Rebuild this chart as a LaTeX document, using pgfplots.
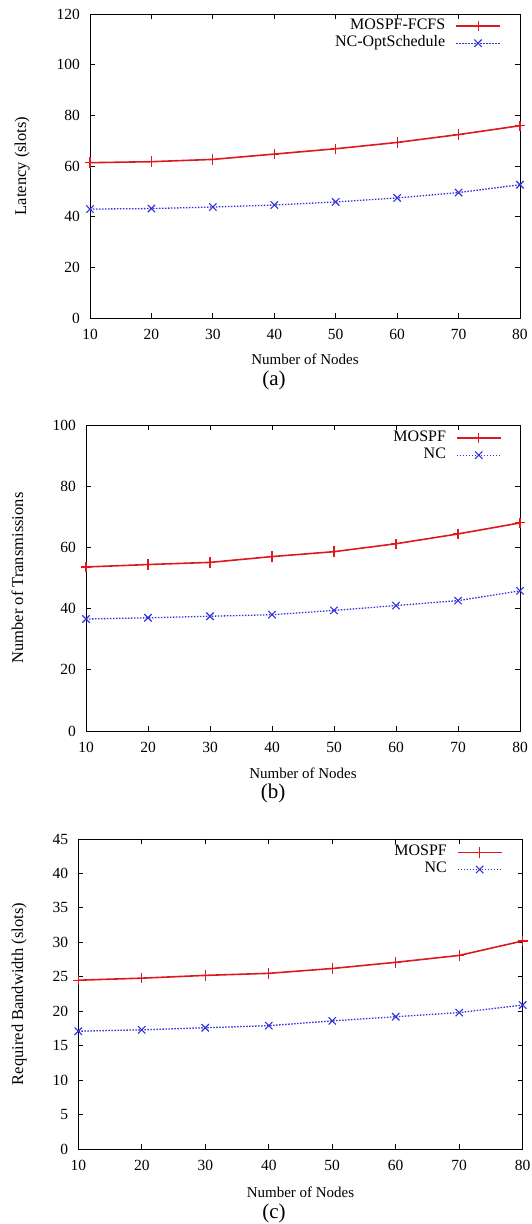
\documentclass[border=0pt]{standalone}
\usepackage{fontspec}
\setmainfont{Liberation Serif}
\usepackage{pgfplots}
\pgfplotsset{compat=1.18}
\newcommand\fs[1]{\fontsize{#1}{#1}\selectfont}
\definecolor{gred}{RGB}{220,25,30}
\definecolor{gblue}{RGB}{50,50,220}
\pgfplotsset{
  gp/.style={
    scale only axis,
    xmin=10, xmax=80,
    xtick={10,20,...,80},
    tick align=inside,
    major tick length=5pt,
    minor tick num=0,
    axis line style={line width=0.9pt},
    tick style={black, line width=0.8pt},
    /pgf/number format/assume math mode=true,
    ticklabel style={font=\fs{15.5}},
    yticklabel style={inner sep=0pt, xshift=-10pt},
    xticklabel style={inner sep=0pt, yshift=-11pt},
    xlabel={Number of Nodes},
    xlabel style={font=\fs{15}, anchor=center},
    ylabel style={font=\fs{16.5}, anchor=center},
    clip=false,
    legend plot pos=right,
    legend cell align=right,
    legend image code/.code={
      \draw[mark repeat=2,mark phase=2,##1] plot coordinates {(0pt,0pt) (22pt,0pt) (44pt,0pt)};
    },
    legend style={draw=none, fill=none, font=\fs{16}, row sep=0pt, column sep=9pt,
      inner sep=0pt, nodes={inner sep=1pt, text height=11pt, text depth=4pt}},
  },
  redl/.style={gred, line width=1.6pt, mark=+, mark size=5.2pt, mark options={solid, line width=1.1pt}},
  bluel/.style={gblue, line width=1.3pt, dash pattern=on 1.5pt off 1.5pt, mark=x, mark size=5.2pt, mark options={solid, line width=1.1pt}},
}
\begin{document}
\begin{tikzpicture}
\useasboundingbox (0,0) rectangle (531pt,1224pt);
% (a)
\begin{axis}[gp, at={(90pt,906pt)}, anchor=south west, width=430pt, height=304pt,
  ymin=0, ymax=120, ytick={0,20,...,120},
  ylabel={Latency (slots)},
  ylabel style={at={(axis description cs:-0.158,0.5)}},
  xlabel style={at={(axis description cs:0.5,0)}, yshift=-41pt},
  legend style={at={(axis description cs:0.956,1)}, anchor=north east, yshift=-3.5pt},
]
\addplot[redl] coordinates {(10,61.3) (20,61.7) (30,62.6) (40,64.7) (50,66.8) (60,69.3) (70,72.4) (80,75.9)};
\addlegendentry{MOSPF-FCFS}
\addplot[bluel] coordinates {(10,43.0) (20,43.2) (30,43.8) (40,44.6) (50,45.8) (60,47.4) (70,49.5) (80,52.6)};
\addlegendentry{NC-OptSchedule}
\end{axis}
\node[font=\fs{21}] at (274pt,844pt) {(a)};
% (b)
\begin{axis}[gp, at={(86pt,493pt)}, anchor=south west, width=434pt, height=306pt,
  ymin=0, ymax=100, ytick={0,20,...,100},
  ylabel={Number of Transmissions},
  ylabel style={at={(axis description cs:-0.158,0.5)}},
  xlabel style={at={(axis description cs:0.5,0)}, yshift=-42pt},
  legend style={at={(axis description cs:0.958,1)}, anchor=north east, yshift=-4.5pt},
]
\addplot[redl] coordinates {(10,53.6) (20,54.4) (30,55.1) (40,57.0) (50,58.6) (60,61.2) (70,64.4) (80,68.0)};
\addlegendentry{MOSPF}
\addplot[bluel] coordinates {(10,36.6) (20,37.0) (30,37.5) (40,38.0) (50,39.4) (60,41.0) (70,42.6) (80,45.8)};
\addlegendentry{NC}
\end{axis}
\node[font=\fs{21}] at (273pt,431pt) {(b)};
% (c)
\begin{axis}[gp, at={(78.3pt,75pt)}, anchor=south west, width=444.4pt, height=310pt,
  ymin=0, ymax=45, ytick={0,5,...,45},
  ylabel={Required Bandwidth (slots)},
  ylabel style={at={(axis description cs:-0.133,0.5)}},
  xlabel style={at={(axis description cs:0.5,0)}, yshift=-43pt},
  legend style={at={(axis description cs:0.955,1)}, anchor=north east, yshift=-4.8pt},
]
\addplot[redl] coordinates {(10,24.5) (20,24.8) (30,25.2) (40,25.5) (50,26.2) (60,27.1) (70,28.1) (80,30.2)};
\addlegendentry{MOSPF}
\addplot[bluel] coordinates {(10,17.1) (20,17.3) (30,17.6) (40,17.9) (50,18.6) (60,19.2) (70,19.8) (80,20.9)};
\addlegendentry{NC}
\end{axis}
\node[font=\fs{21}] at (274pt,11pt) {(c)};
\end{tikzpicture}
\end{document}
